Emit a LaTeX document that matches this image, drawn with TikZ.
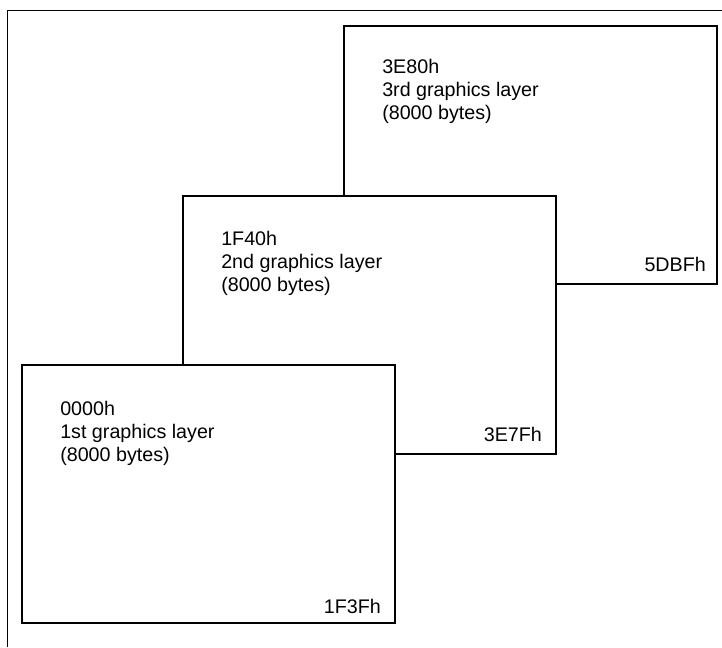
\documentclass[tikz,border=0pt]{standalone}
\usepackage{fontspec}
\setmainfont{Liberation Sans}
\tikzset{
  layer/.style={draw, line width=1.8pt, fill=white, minimum width=9.325cm,
    minimum height=6.45cm, inner sep=0pt, outer sep=0pt},
  info/.style={align=left, inner sep=0pt, font=\fontsize{14}{16.3}\selectfont},
  addr/.style={inner sep=0pt, font=\fontsize{14}{16.3}\selectfont}
}
\begin{document}
\begin{tikzpicture}[x=0.025cm, y=0.025cm]
  \useasboundingbox (0,0) rectangle (722,647);
  \coordinate (C) at (344,363);
  \coordinate (B) at (183,193);
  \coordinate (A) at (22,24);

  \draw[line width=0.7pt] (7,0) -- (7,637) -- (722,637);

  \node[layer, anchor=south west] (layer3) at (C) {};
  \node[info, anchor=north west] (info3) at ([shift={(38,-33)}]layer3.north west)
    {3E80h\\3rd graphics layer\\(8000 bytes)};
  \node[addr, anchor=base east] (end3) at ([shift={(-11,13)}]layer3.south east) {5DBFh};

  \node[layer, anchor=south west] (layer2) at (B) {};
  \node[info, anchor=north west] (info2) at ([shift={(38,-35)}]layer2.north west)
    {1F40h\\2nd graphics layer\\(8000 bytes)};
  \node[addr, anchor=base east] (end2) at ([shift={(-14,13)}]layer2.south east) {3E7Fh};

  \node[layer, anchor=south west] (layer1) at (A) {};
  \node[info, anchor=north west] (info1) at ([shift={(38,-36)}]layer1.north west)
    {0000h\\1st graphics layer\\(8000 bytes)};
  \node[addr, anchor=base east] (end1) at ([shift={(-14,10)}]layer1.south east) {1F3Fh};
\end{tikzpicture}
\end{document}
